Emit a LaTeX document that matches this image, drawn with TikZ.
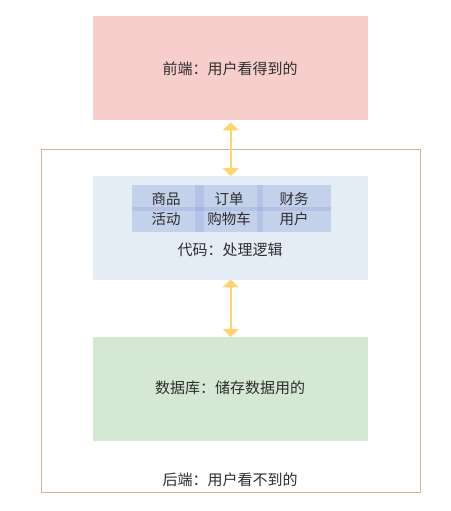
\documentclass[tikz,border=0pt]{standalone}
\usepackage{fontspec}
\setmainfont{Noto Sans CJK SC}
\usetikzlibrary{arrows.meta}
\definecolor{redfill}{HTML}{F8CECC}
\definecolor{bluefill}{HTML}{E4ECF6}
\definecolor{greenfill}{HTML}{D5E8D4}
\definecolor{outerline}{HTML}{D6B197}
\definecolor{arrowcol}{HTML}{FFD46B}
\definecolor{cellfill}{HTML}{9FB1DE}
\definecolor{txt}{HTML}{2E2E2E}
\begin{document}
\begin{tikzpicture}[x=1pt,y=-1pt,
  panel/.style={draw=none,minimum width=275pt,minimum height=104pt,inner sep=0pt,anchor=north west},
  cell/.style={fill=cellfill,fill opacity=0.45,draw=none,inner sep=0pt,anchor=north west},
  lbl/.style={text=txt,font=\fontsize{15}{17}\selectfont,inner sep=0pt},
  clbl/.style={text=txt,font=\fontsize{14.5}{16}\selectfont,inner sep=0pt},
  biarrow/.style={arrowcol,line width=2pt,{Triangle[width=16pt,length=8pt]}-{Triangle[width=16pt,length=8pt]}}]
\useasboundingbox (0,0) rectangle (450,511);
\fill[white] (0,0) rectangle (450,511);
\node[panel,fill=redfill] (front) at (93,16) {};
\node[draw=outerline,line width=1pt,minimum width=379pt,minimum height=343pt,inner sep=0pt,anchor=north west] (outer) at (41,149) {};
\node[panel,fill=bluefill] (code) at (93,176) {};
\node[panel,fill=greenfill] (db) at (93,337) {};
% grid cells
\node[cell,minimum width=72pt,minimum height=26pt] (c11) at (132,185) {};
\node[cell,minimum width=68pt,minimum height=26pt] (c12) at (195,185) {};
\node[cell,minimum width=74pt,minimum height=26pt] (c13) at (257,185) {};
\node[cell,minimum width=72pt,minimum height=25pt] (c21) at (132,207) {};
\node[cell,minimum width=68pt,minimum height=25pt] (c22) at (195,207) {};
\node[cell,minimum width=74pt,minimum height=25pt] (c23) at (257,207) {};
\node[clbl] (t11) at (166,199) {商品};
\node[clbl] (t12) at (229,199) {订单};
\node[clbl] (t13) at (294,199) {财务};
\node[clbl] (t21) at (166,219) {活动};
\node[clbl] (t22) at (229,219) {购物车};
\node[clbl] (t23) at (294,219) {用户};
\node[lbl] (tfront) at (230,69) {前端：用户看得到的};
\node[lbl] (tcode) at (230,250) {代码：处理逻辑};
\node[lbl] (tdb) at (230,388) {数据库：储存数据用的};
\node[lbl] (tback) at (230,480) {后端：用户看不到的};
\coordinate (a1top) at ([yshift=-2pt]front.south);
\coordinate (a1bot) at (code.north);
\draw[biarrow] (a1top) -- (a1bot);
\coordinate (a2top) at ([yshift=1pt]code.south);
\coordinate (a2bot) at (db.north);
\draw[biarrow] (a2top) -- (a2bot);
\end{tikzpicture}
\end{document}
